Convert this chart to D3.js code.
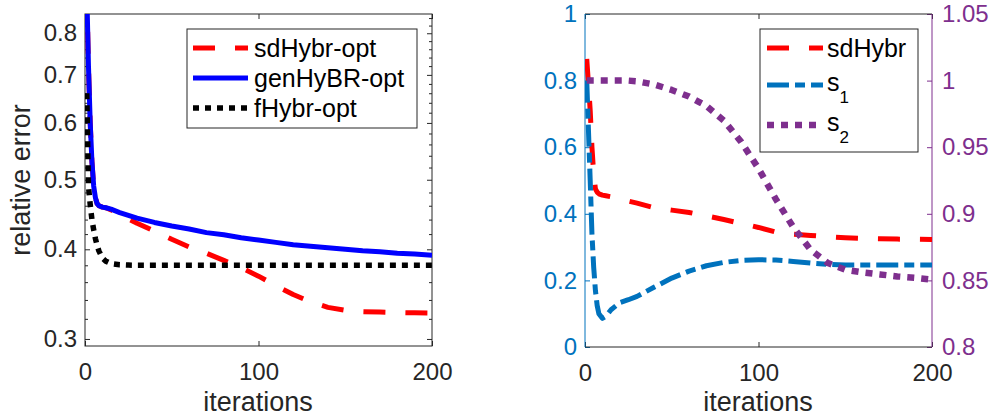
<!DOCTYPE html>
<html>
<head>
<meta charset="utf-8">
<script src="https://cdn.jsdelivr.net/npm/d3@7"></script>
<style>
  body { margin: 0; background: #fff; }
  svg { display: block; font-family: "Liberation Sans", Arial, Helvetica, sans-serif; }
</style>
</head>
<body>
<svg id="chart" width="993" height="418"></svg>
<script>
const iters = [1,2,3,4,5,6,7,8,10,12,15,20,25,30,40,50,60,70,80,90,100,110,120,130,140,150,160,170,180,190,200];

// left panel: relative error (log axis)
const sdHybrOpt = [0.92,0.72,0.60,0.53,0.49,0.472,0.463,0.460,0.458,0.457,0.454,0.448,0.441,0.435,0.424,0.413,0.403,0.395,0.386,0.377,0.367,0.356,0.346,0.338,0.332,0.329,0.3275,0.327,0.3265,0.3262,0.326];
const genHyBROpt = [0.92,0.72,0.60,0.53,0.49,0.472,0.463,0.460,0.458,0.457,0.455,0.450,0.446,0.442,0.436,0.431,0.427,0.422,0.419,0.415,0.412,0.409,0.406,0.404,0.402,0.400,0.398,0.397,0.395,0.394,0.3925];
const fHybrOpt = [0.66,0.49,0.462,0.44,0.426,0.414,0.405,0.398,0.389,0.385,0.382,0.3806,0.3802,0.380,0.380,0.380,0.380,0.380,0.380,0.380,0.380,0.380,0.380,0.380,0.380,0.380,0.380,0.380,0.380,0.380,0.380];

// right panel: sdHybr error and s1 on left axis, s2 on right axis
const sdHybr = [0.865,0.79,0.71,0.60,0.52,0.475,0.465,0.460,0.456,0.454,0.451,0.444,0.438,0.432,0.418,0.411,0.404,0.394,0.383,0.371,0.359,0.345,0.339,0.335,0.331,0.328,0.326,0.325,0.324,0.3235,0.323];
const s1 = [0.80,0.65,0.50,0.34,0.24,0.17,0.125,0.10,0.086,0.092,0.112,0.133,0.142,0.152,0.180,0.207,0.228,0.244,0.254,0.260,0.262,0.261,0.257,0.252,0.248,0.246,0.246,0.246,0.246,0.246,0.246];
const s2 = [1.0,1.0,1.0,1.0,1.0,1.0,1.0,1.0,1.0,1.0,1.0,1.0,1.0,0.9995,0.997,0.993,0.988,0.981,0.970,0.954,0.934,0.911,0.890,0.873,0.863,0.858,0.856,0.8545,0.853,0.852,0.8505];

// ticks
const xTicks = [0,100,200];
const yLogMajor = [0.3,0.4,0.5,0.6,0.7,0.8];
const yLogMinor = [0.32,0.34,0.36,0.38,0.42,0.44,0.46,0.48,0.52,0.54,0.56,0.58,0.62,0.64,0.66,0.68,0.72,0.74,0.76,0.78,0.82,0.84];
const yR1Ticks = [0,0.2,0.4,0.6,0.8,1];
const yR2Ticks = [0.8,0.85,0.9,0.95,1,1.05];

const legendLeft = ["sdHybr-opt","genHyBR-opt","fHybr-opt"];
const legendRight = [["sdHybr",""],["s","1"],["s","2"]];

const AXIS = "#262626";
const BLUE = "#0072BD", PURPLE = "#7E2F8E";
const fmt = d => String(+d.toFixed(2));

const svg = d3.select("#chart");
svg.append("rect").attr("width",993).attr("height",418).attr("fill","#fff");

function styleAxis(sel, color) {
  sel.select(".domain").remove();
  sel.attr("font-family", null).attr("font-size", 24);
  sel.selectAll(".tick line").attr("stroke", color).attr("stroke-width", 1);
  sel.selectAll(".tick text").attr("fill", color);
}

// ---------- left panel ----------
const xL = d3.scaleLinear([0,200],[85,432]);
const yL = d3.scaleLog([0.2933,0.851],[346,14]);

svg.append("defs").append("clipPath").attr("id","clipL")
  .append("rect").attr("x",85).attr("y",14).attr("width",347).attr("height",332);

svg.append("g").attr("transform","translate(0,346)")
  .call(d3.axisBottom(xL).tickValues(xTicks).tickSizeInner(-5).tickSizeOuter(0).tickPadding(17))
  .call(styleAxis, AXIS);
svg.append("g").attr("transform","translate(0,14)")
  .call(d3.axisTop(xL).tickValues(xTicks).tickSizeInner(-5).tickSizeOuter(0).tickFormat(""))
  .call(styleAxis, AXIS);
svg.append("g").attr("transform","translate(85,0)")
  .call(d3.axisLeft(yL).tickValues(yLogMajor).tickFormat(fmt).tickSizeInner(-5).tickSizeOuter(0).tickPadding(8))
  .call(styleAxis, AXIS);
svg.append("g").attr("transform","translate(85,0)")
  .call(d3.axisLeft(yL).tickValues(yLogMinor).tickFormat("").tickSizeInner(-3).tickSizeOuter(0))
  .call(styleAxis, AXIS);
svg.append("g").attr("transform","translate(432,0)")
  .call(d3.axisRight(yL).tickValues(yLogMajor).tickFormat("").tickSizeInner(-5).tickSizeOuter(0))
  .call(styleAxis, AXIS);
svg.append("g").attr("transform","translate(432,0)")
  .call(d3.axisRight(yL).tickValues(yLogMinor).tickFormat("").tickSizeInner(-3).tickSizeOuter(0))
  .call(styleAxis, AXIS);

svg.append("rect").attr("x",85).attr("y",14).attr("width",347).attr("height",332)
  .attr("fill","none").attr("stroke",AXIS).attr("stroke-width",1);

const lineL = d3.line().x((d,i) => xL(iters[i])).y(d => yL(d));
const leftSeries = [
  {vals: sdHybrOpt, color: "#FF0000", dash: "22,20", w: 5},
  {vals: genHyBROpt, color: "#0000FF", dash: null, w: 5},
  {vals: fHybrOpt, color: "#000000", dash: "6,6", w: 5.5}
];
const gL = svg.append("g").attr("clip-path","url(#clipL)");
leftSeries.forEach(s => {
  gL.append("path").datum(s.vals).attr("d", lineL)
    .attr("fill","none").attr("stroke",s.color).attr("stroke-width",s.w)
    .attr("stroke-dasharray",s.dash).attr("stroke-linejoin","round");
});

svg.append("text").attr("x",258).attr("y",411).attr("text-anchor","middle")
  .attr("font-size",27).attr("fill",AXIS).text("iterations");
svg.append("text").attr("transform","translate(30,180) rotate(-90)").attr("text-anchor","middle")
  .attr("font-size",27).attr("fill",AXIS).text("relative error");

// left legend
const lgL = svg.append("g");
lgL.append("rect").attr("x",187).attr("y",29).attr("width",230).attr("height",99)
  .attr("fill","#fff").attr("stroke",AXIS).attr("stroke-width",1);
legendLeft.forEach((lab,i) => {
  const yy = 48 + i*30;
  lgL.append("line").attr("x1",193).attr("x2",248).attr("y1",yy).attr("y2",yy)
    .attr("stroke",leftSeries[i].color).attr("stroke-width",leftSeries[i].w)
    .attr("stroke-dasharray",leftSeries[i].dash);
  lgL.append("text").attr("x",254).attr("y",yy+9).attr("font-size",25).attr("fill","#000").text(lab);
});

// ---------- right panel ----------
const xR = d3.scaleLinear([0,200],[585,932]);
const yR1 = d3.scaleLinear([0,1],[347,14]);
const yR2 = d3.scaleLinear([0.8,1.05],[347,14]);

svg.select("defs").append("clipPath").attr("id","clipR")
  .append("rect").attr("x",585).attr("y",14).attr("width",347).attr("height",333);

svg.append("g").attr("transform","translate(0,347)")
  .call(d3.axisBottom(xR).tickValues(xTicks).tickSizeInner(-5).tickSizeOuter(0).tickPadding(17))
  .call(styleAxis, AXIS);
svg.append("g").attr("transform","translate(0,14)")
  .call(d3.axisTop(xR).tickValues(xTicks).tickSizeInner(-5).tickSizeOuter(0).tickFormat(""))
  .call(styleAxis, AXIS);
svg.append("g").attr("transform","translate(585,0)")
  .call(d3.axisLeft(yR1).tickValues(yR1Ticks).tickFormat(fmt).tickSizeInner(-5).tickSizeOuter(0).tickPadding(8))
  .call(styleAxis, BLUE);
svg.append("g").attr("transform","translate(932,0)")
  .call(d3.axisRight(yR2).tickValues(yR2Ticks).tickFormat(fmt).tickSizeInner(-5).tickSizeOuter(0).tickPadding(10))
  .call(styleAxis, PURPLE);

svg.append("line").attr("x1",585).attr("x2",932).attr("y1",14).attr("y2",14).attr("stroke",AXIS);
svg.append("line").attr("x1",585).attr("x2",932).attr("y1",347).attr("y2",347).attr("stroke",AXIS);
svg.append("line").attr("x1",585).attr("x2",585).attr("y1",14).attr("y2",347).attr("stroke",BLUE);
svg.append("line").attr("x1",932).attr("x2",932).attr("y1",14).attr("y2",347).attr("stroke",PURPLE);

const rightSeries = [
  {vals: sdHybr, y: yR1, color: "#FF0000", dash: "22,20", w: 5},
  {vals: s1, y: yR1, color: BLUE, dash: "22,6,10,6", w: 5},
  {vals: s2, y: yR2, color: PURPLE, dash: "7,7", w: 6.5}
];
const gR = svg.append("g").attr("clip-path","url(#clipR)");
rightSeries.forEach(s => {
  const ln = d3.line().x((d,i) => xR(iters[i])).y(d => s.y(d));
  gR.append("path").datum(s.vals).attr("d", ln)
    .attr("fill","none").attr("stroke",s.color).attr("stroke-width",s.w)
    .attr("stroke-dasharray",s.dash).attr("stroke-linejoin","round");
});

svg.append("text").attr("x",758).attr("y",411).attr("text-anchor","middle")
  .attr("font-size",27).attr("fill",AXIS).text("iterations");

// right legend
const lgR = svg.append("g");
lgR.append("rect").attr("x",760).attr("y",29).attr("width",158).attr("height",123)
  .attr("fill","#fff").attr("stroke",AXIS).attr("stroke-width",1);
const rowsR = [48, 85, 125];
legendRight.forEach((lab,i) => {
  const yy = rowsR[i];
  lgR.append("line").attr("x1",767).attr("x2",823).attr("y1",yy).attr("y2",yy)
    .attr("stroke",rightSeries[i].color).attr("stroke-width",rightSeries[i].w)
    .attr("stroke-dasharray",rightSeries[i].dash);
  const t = lgR.append("text").attr("x",827).attr("y",yy + (lab[1] ? 6 : 9))
    .attr("font-size",25).attr("fill","#000").text(lab[0]);
  if (lab[1]) t.append("tspan").attr("dy",12).attr("font-size",17).text(lab[1]);
});
</script>
</body>
</html>
